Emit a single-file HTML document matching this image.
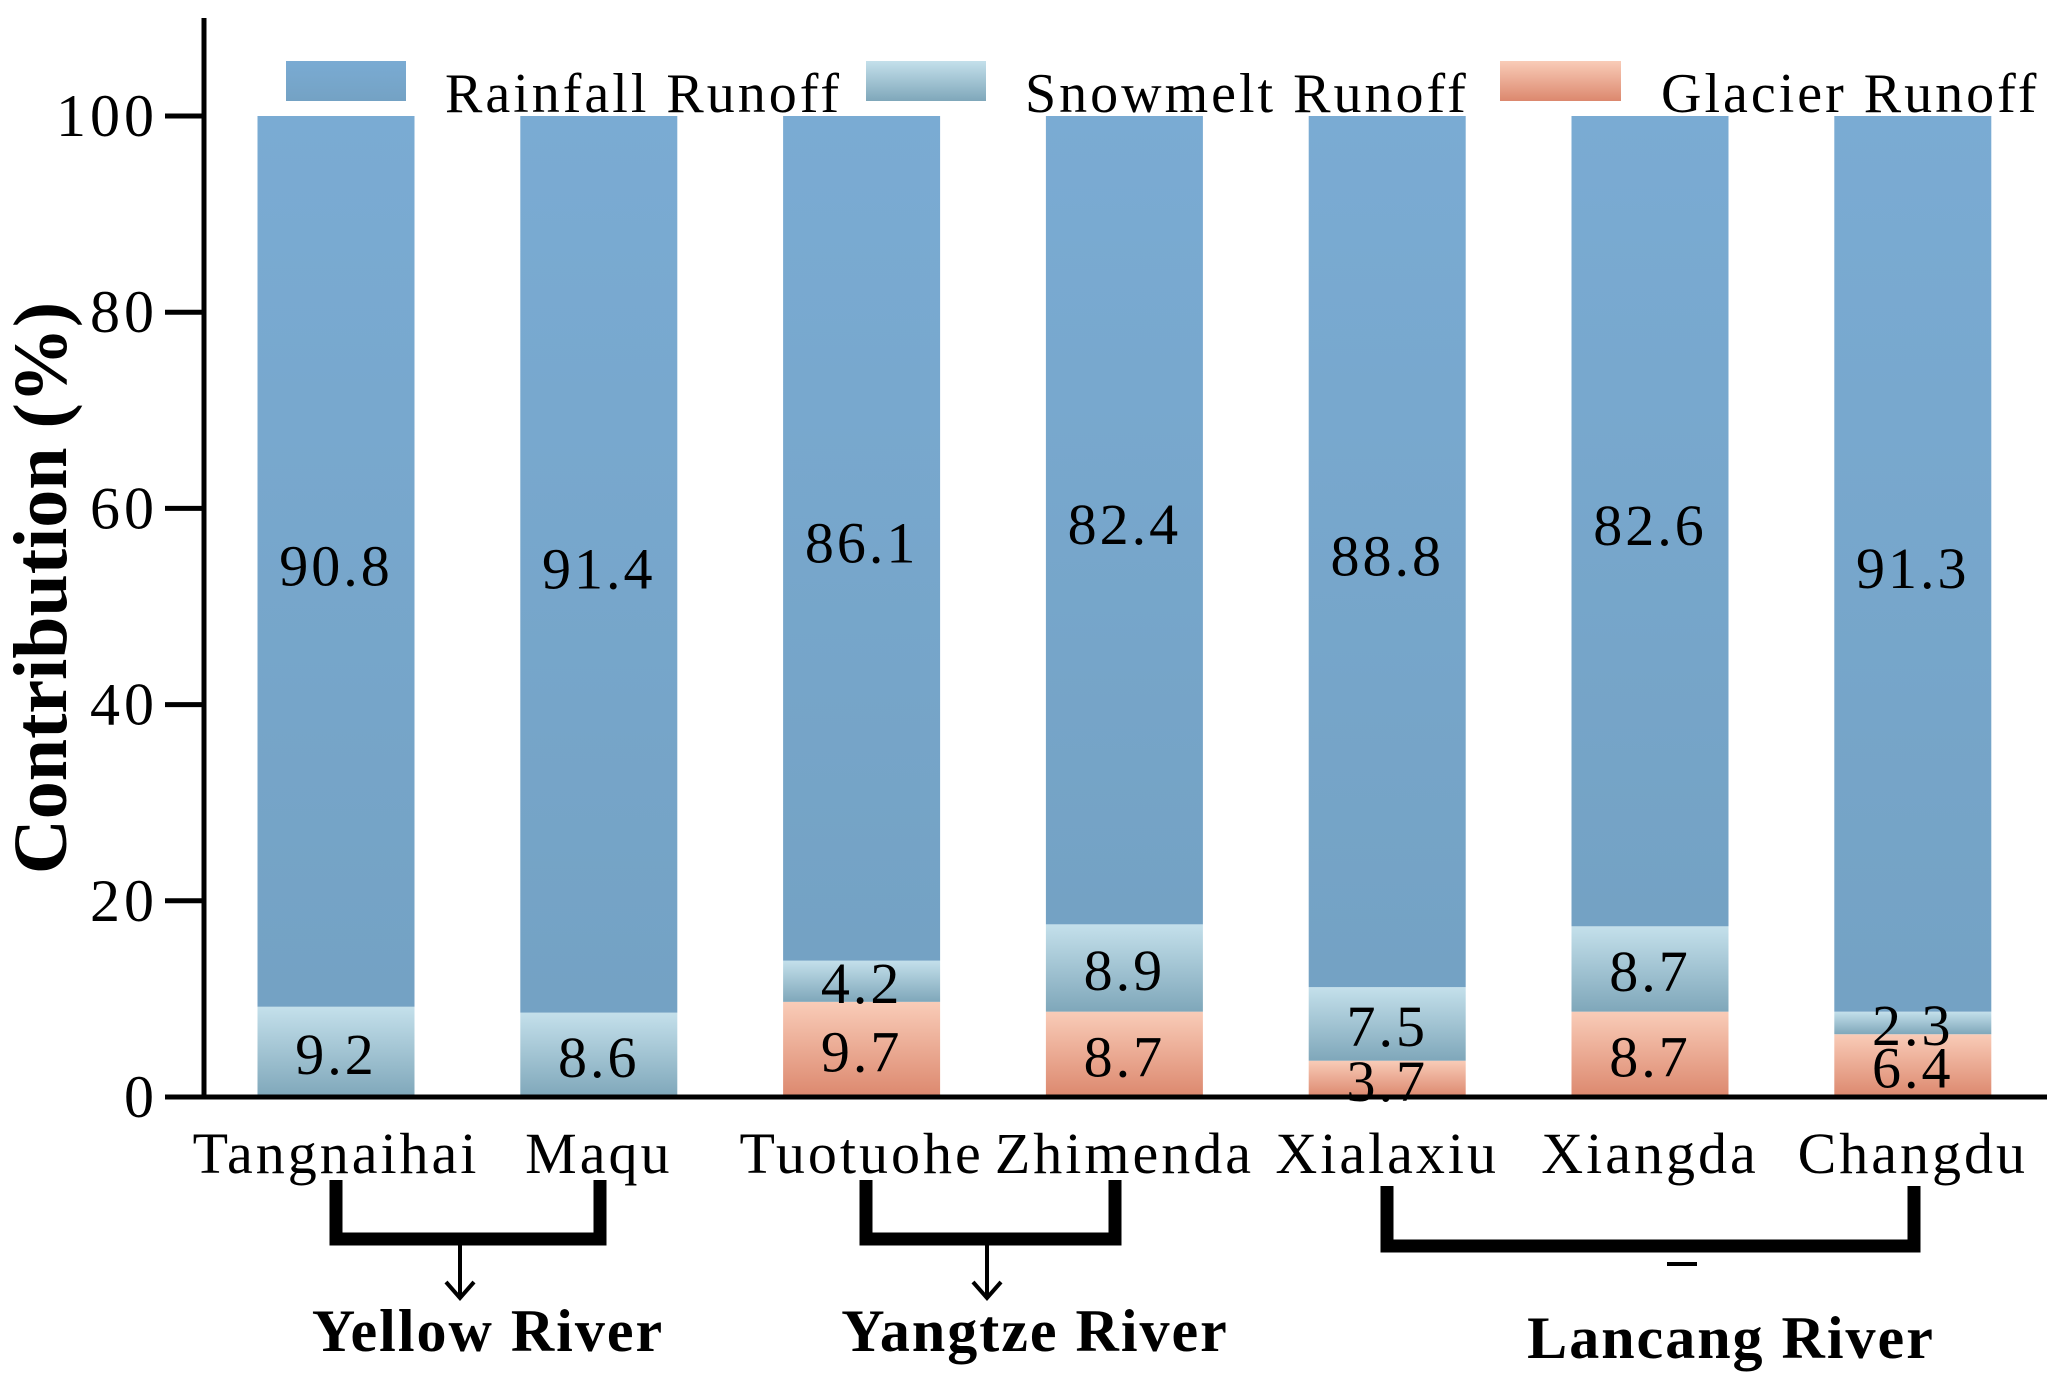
<!DOCTYPE html>
<html><head><meta charset="utf-8"><style>
html,body{margin:0;padding:0;background:#fff}
svg{display:block}
text{font-family:"Liberation Serif",serif}
</style></head><body>
<svg id="c" width="2067" height="1388" viewBox="0 0 2067 1388">
<defs>
<linearGradient id="gRain" x1="0" y1="0" x2="0" y2="1"><stop offset="0" stop-color="#7aabd3"/><stop offset="1" stop-color="#74a2c4"/></linearGradient>
<linearGradient id="gSnow" x1="0" y1="0" x2="0" y2="1"><stop offset="0" stop-color="#c4e0eb"/><stop offset="1" stop-color="#7fa7ba"/></linearGradient>
<linearGradient id="gGlac" x1="0" y1="0" x2="0" y2="1"><stop offset="0" stop-color="#f9ccb8"/><stop offset="1" stop-color="#dc886e"/></linearGradient>
</defs>
<g id="bars"></g>
<g id="axes"></g>
<g>
<rect x="286" y="61" width="120" height="40" fill="url(#gRain)"/>
<text x="445" y="112" font-size="56" letter-spacing="3">Rainfall Runoff</text>
<rect x="866" y="61" width="120" height="40" fill="url(#gSnow)"/>
<text x="1025" y="112" font-size="56" letter-spacing="3">Snowmelt Runoff</text>
<rect x="1500" y="61" width="121" height="40" fill="url(#gGlac)"/>
<text x="1661" y="112" font-size="56" letter-spacing="3">Glacier Runoff</text>
</g>
<text transform="translate(66,588) rotate(-90)" text-anchor="middle" font-size="76" font-weight="bold">Contribution (%)</text>
<g stroke="#000" fill="none">
<path d="M336 1180 V1239 H600 V1180" stroke-width="13"/>
<path d="M460 1239 V1296 M446 1282 L460 1298 L474 1282" stroke-width="4"/>
<path d="M866 1180 V1239 H1115 V1180" stroke-width="13"/>
<path d="M987 1239 V1296 M973 1282 L987 1298 L1001 1282" stroke-width="4"/>
<path d="M1387 1186 V1246 H1914 V1186" stroke-width="13"/>
<path d="M1667 1264 H1697" stroke-width="4"/>
</g>
<text x="488" y="1351" text-anchor="middle" font-size="60" font-weight="bold" letter-spacing="2">Yellow River</text>
<text x="1035" y="1351" text-anchor="middle" font-size="60" font-weight="bold" letter-spacing="2">Yangtze River</text>
<text x="1731" y="1358" text-anchor="middle" font-size="60" font-weight="bold" letter-spacing="2">Lancang River</text>
</svg>
<script>
const categories = ["Tangnaihai","Maqu","Tuotuohe","Zhimenda","Xialaxiu","Xiangda","Changdu"];
const rainfall = [90.8, 91.4, 86.1, 82.4, 88.8, 82.6, 91.3];
const snowmelt = [9.2, 8.6, 4.2, 8.9, 7.5, 8.7, 2.3];
const glacier = [0, 0, 9.7, 8.7, 3.7, 8.7, 6.4];
const yTicks = [0, 20, 40, 60, 80, 100];

const NS = "http://www.w3.org/2000/svg";
const y0 = 1097, yTop = 116;
function y(v){ return y0 - v/100*(y0-yTop); }
const barW = 157;
function xc(i){ return 336 + i*262.8; }
function mk(tag, attrs, parent){
  const e = document.createElementNS(NS, tag);
  for (const k in attrs) e.setAttribute(k, attrs[k]);
  parent.appendChild(e); return e;
}
const bars = document.getElementById("bars");
const axes = document.getElementById("axes");
categories.forEach((c, i) => {
  const x = xc(i) - barW/2;
  const g = glacier[i], s = snowmelt[i], r = rainfall[i];
  const segs = [[0, g, "url(#gGlac)", "glacier"], [g, g+s, "url(#gSnow)", "snowmelt"], [g+s, g+s+r, "url(#gRain)", "rainfall"]];
  segs.forEach(([a, b, fill, nm]) => {
    if (b - a <= 0) return;
    const rc = mk("rect", {x: x, y: y(b), width: barW, height: y(a)-y(b), fill: fill}, bars);
    
    
  });
  const lab = [];
  if (g > 0) lab.push([g, (y(0)+y(g))/2 + 22, "glacier"]);
  lab.push([s, (y(g)+y(g+s))/2 + 22, "snowmelt"]);
  lab.push([r, (y(g+s)+y(100))/2 + 24, "rainfall"]);
  lab.forEach(([v, yy, nm]) => {
    const t = mk("text", {x: xc(i), y: yy, "text-anchor": "middle", "font-size": 58, "letter-spacing": 3}, bars);
    t.textContent = v.toFixed(1);
    
    
  });
  const cl = mk("text", {x: xc(i), y: 1173, "text-anchor": "middle", "font-size": 58, "letter-spacing": 3}, axes);
  cl.textContent = c;
  
  
});
const ya = mk("line", {x1: 204, y1: 18, x2: 204, y2: 1099, stroke: "#000", "stroke-width": 5}, axes);


const xa = mk("line", {x1: 202, y1: 1097, x2: 2047, y2: 1097, stroke: "#000", "stroke-width": 5}, axes);


yTicks.forEach(v => {
  const tk = mk("line", {x1: 165, y1: y(v), x2: 204, y2: y(v), stroke: "#000", "stroke-width": 5}, axes);
  
  
  const tl = mk("text", {x: 158, y: y(v) + 20, "text-anchor": "end", "font-size": 60, "letter-spacing": 4}, axes);
  tl.textContent = v;
  
  
});
</script>
</body></html>
